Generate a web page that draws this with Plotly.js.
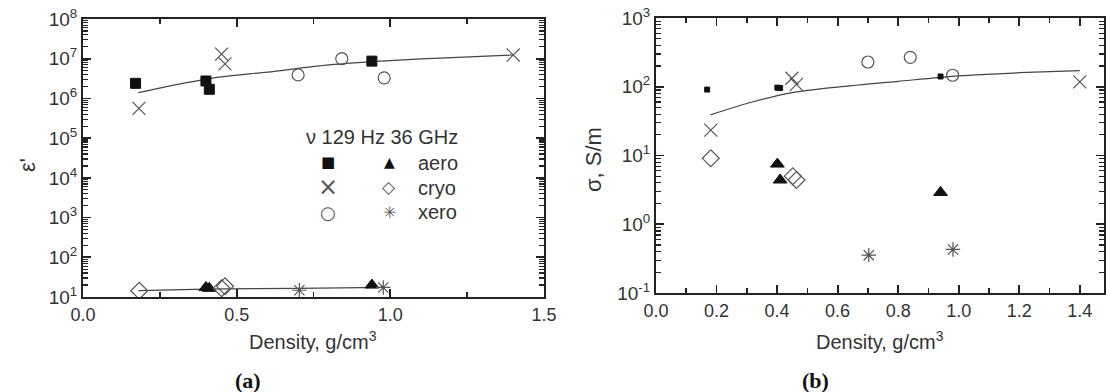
<!DOCTYPE html>
<html><head><meta charset="utf-8">
<script src="https://cdn.plot.ly/plotly-3.0.1.min.js"></script>
<style>html,body{margin:0;padding:0;background:#fff}#c{width:1106px;height:392px}</style>
</head><body><div id="c"></div>
<script>
// ---- Panel (a): permittivity ε' vs density ----
const aSq129X = [0.171, 0.400, 0.411, 0.940];
const aSq129Y = [2.4e6, 2.75e6, 1.7e6, 8.7e6];
const aCryo129X = [0.182, 0.451, 0.462, 1.400];
const aCryo129Y = [5.6e5, 1.3e7, 7.4e6, 1.24e7];
const aXero129X = [0.700, 0.842, 0.980];
const aXero129Y = [3.9e6, 1.0e7, 3.3e6];
const aAero36X = [0.400, 0.411, 0.940];
const aAero36Y = [17.4, 16.5, 20];
const aCryo36X = [0.183, 0.451, 0.462];
const aCryo36Y = [14.4, 16.6, 18.6];
const aXero36X = [0.704, 0.977];
const aXero36Y = [14.8, 17.4];
const aFitHiX = [0.18, 0.30, 0.45, 0.60, 0.80, 1.00, 1.20, 1.40];
const aFitHiY = [1.4e6, 2.2e6, 3.5e6, 4.6e6, 7.0e6, 9.0e6, 1.07e7, 1.24e7];
const aFitLoX = [0.18, 0.40, 0.70, 0.98];
const aFitLoY = [14.5, 15.8, 16.5, 17.5];

// ---- Panel (b): conductivity σ vs density ----
const bSq129X = [0.169, 0.401, 0.410, 0.940];
const bSq129Y = [91, 97, 96, 141];
const bCryo129X = [0.181, 0.449, 0.464, 1.400];
const bCryo129Y = [23.4, 133, 108, 118];
const bXero129X = [0.700, 0.840, 0.980];
const bXero129Y = [229, 268, 147];
const bAero36X = [0.401, 0.410, 0.940];
const bAero36Y = [7.5, 4.4, 2.9];
const bCryo36X = [0.181, 0.452, 0.464];
const bCryo36Y = [9.1, 5.0, 4.4];
const bXero36X = [0.703, 0.981];
const bXero36Y = [0.355, 0.43];
const bFitX = [0.18, 0.30, 0.45, 0.60, 0.80, 1.00, 1.20, 1.40];
const bFitY = [39, 57, 82, 99, 120, 144, 160, 172];

// tick labels
const aXTicks = [0, 0.5, 1.0, 1.5];
const aXText = ['0.0', '0.5', '1.0', '1.5'];
const aYExp = [1, 2, 3, 4, 5, 6, 7, 8];
const bYExp = [-1, 0, 1, 2, 3];

const gray = '#555';
const blk = '#111';
const fitCol = '#444';

function pts(x, y, xa, ya, symbol, size, color, lw) {
  return {x: x, y: y, xaxis: xa, yaxis: ya, type: 'scatter', mode: 'markers',
    marker: {symbol: symbol, size: size, color: color, line: {color: color, width: lw}},
    showlegend: false, hoverinfo: 'skip'};
}
function fit(x, y, xa, ya) {
  return {x: x, y: y, xaxis: xa, yaxis: ya, type: 'scatter', mode: 'lines',
    line: {color: fitCol, width: 1.2, shape: 'spline', smoothing: 0.8},
    showlegend: false, hoverinfo: 'skip'};
}

const data = [
  fit(aFitHiX, aFitHiY, 'x', 'y'),
  fit(aFitLoX, aFitLoY, 'x', 'y'),
  pts(aSq129X, aSq129Y, 'x', 'y', 'square', 10, blk, 1),
  pts(aCryo129X, aCryo129Y, 'x', 'y', 'x-thin-open', 13, gray, 1.2),
  pts(aXero129X, aXero129Y, 'x', 'y', 'circle-open', 12, gray, 1.2),
  pts(aAero36X, aAero36Y, 'x', 'y', 'triangle-up', 12, blk, 1),
  pts(aCryo36X, aCryo36Y, 'x', 'y', 'diamond-open', 13, gray, 1.2),
  pts(aXero36X, aXero36Y, 'x', 'y', 'asterisk-open', 12, gray, 1.2),

  fit(bFitX, bFitY, 'x2', 'y2'),
  pts(bSq129X, bSq129Y, 'x2', 'y2', 'square', 5, blk, 1),
  pts(bCryo129X, bCryo129Y, 'x2', 'y2', 'x-thin-open', 13, gray, 1.2),
  pts(bXero129X, bXero129Y, 'x2', 'y2', 'circle-open', 12, gray, 1.2),
  pts(bAero36X, bAero36Y, 'x2', 'y2', 'triangle-up', 12, blk, 1),
  pts(bCryo36X, bCryo36Y, 'x2', 'y2', 'diamond-open', 13, gray, 1.2),
  pts(bXero36X, bXero36Y, 'x2', 'y2', 'asterisk-open', 12, gray, 1.2)
];

const xTickFont = {family: 'Liberation Sans, Arial, sans-serif', size: 18, color: '#333'};
const yTickFont = {family: 'Liberation Sans, Arial, sans-serif', size: 19, color: '#333'};
const axBase = {showline: true, linecolor: '#222', linewidth: 2, mirror: 'ticks',
  ticks: 'inside', tickcolor: '#222', tickwidth: 1.8, showgrid: false, zeroline: false,
  fixedrange: true};

const W = 1106, H = 392;
const px = v => v / W, py = v => 1 - v / H;

const layout = {
  width: W, height: H, margin: {l: 0, r: 0, t: 0, b: 0},
  paper_bgcolor: '#fff', plot_bgcolor: '#fff',
  font: {family: 'Liberation Sans, Arial, sans-serif', color: '#333'},
  xaxis: Object.assign({}, axBase, {domain: [px(83), px(544)], range: [0, 1.5],
    tickvals: aXTicks, ticktext: aXText, ticklen: 8, anchor: 'y', tickfont: xTickFont,
    minor: {dtick: 0.25, ticks: 'inside', ticklen: 5, tickcolor: '#222', tickwidth: 1.6}}),
  yaxis: Object.assign({}, axBase, {domain: [py(297), py(19)], type: 'log', range: [1, 8],
    tickvals: aYExp.map(e => Math.pow(10, e)), ticktext: aYExp.map(e => '10<sup>' + e + '</sup>'),
    ticklen: 8, anchor: 'x', tickfont: yTickFont,
    minor: {dtick: 'D1', ticks: 'inside', ticklen: 5, tickcolor: '#222', tickwidth: 1.2}}),
  xaxis2: Object.assign({}, axBase, {domain: [px(656), px(1104)], range: [0, 1.48],
    dtick: 0.2, tick0: 0, tickformat: '.1f', ticklen: 8, anchor: 'y2', tickfont: xTickFont,
    minor: {dtick: 0.1, ticks: 'inside', ticklen: 5, tickcolor: '#222', tickwidth: 1.6}}),
  yaxis2: Object.assign({}, axBase, {domain: [py(293), py(18)], type: 'log', range: [-1, 3],
    tickvals: bYExp.map(e => Math.pow(10, e)), ticktext: bYExp.map(e => '10<sup>' + e + '</sup>'),
    ticklen: 8, anchor: 'x2', tickfont: yTickFont,
    minor: {dtick: 'D1', ticks: 'inside', ticklen: 5, tickcolor: '#222', tickwidth: 1.2}}),
  annotations: []
};

const A = layout.annotations;
function ann(x, y, text, size, opts) {
  A.push(Object.assign({xref: 'paper', yref: 'paper', x: px(x), y: py(y), text: text,
    showarrow: false, xanchor: 'center', yanchor: 'middle',
    font: {family: 'Liberation Sans, Arial, sans-serif', size: size, color: '#333'}}, opts || {}));
}
// axis titles
ann(313, 340, 'Density, g/cm<sup>3</sup>', 20);
ann(880, 340, 'Density, g/cm<sup>3</sup>', 20);
ann(27, 165, "ε'", 22, {textangle: -90});
ann(593, 160, 'σ, S/m', 22, {textangle: -90});
// panel letters
ann(248, 380, '<b>(a)</b>', 22, {font: {family: 'Liberation Serif, serif', size: 22, color: '#111'}});
ann(815, 380, '<b>(b)</b>', 22, {font: {family: 'Liberation Serif, serif', size: 22, color: '#111'}});
// legend (panel a)
ann(304, 137, 'ν 129 Hz 36 GHz', 20, {xanchor: 'left'});
ann(328, 162, '■', 15, {font: {family: 'DejaVu Sans', size: 15, color: blk}});
ann(389, 162, '▲', 14, {font: {family: 'DejaVu Sans', size: 14, color: blk}});
ann(328, 187, '×', 24, {font: {family: 'DejaVu Sans', size: 24, color: gray}});
ann(389, 187, '◇', 17, {font: {family: 'DejaVu Sans', size: 17, color: gray}});
ann(328, 212, '○', 18, {font: {family: 'DejaVu Sans', size: 18, color: gray}});
ann(389, 212, '✳', 16, {font: {family: 'DejaVu Sans', size: 16, color: gray}});
ann(416, 163, 'aero', 20, {xanchor: 'left'});
ann(416, 188, 'cryo', 20, {xanchor: 'left'});
ann(416, 212, 'xero', 20, {xanchor: 'left'});

Plotly.newPlot('c', data, layout, {staticPlot: true, displayModeBar: false});
</script>
</body></html>
